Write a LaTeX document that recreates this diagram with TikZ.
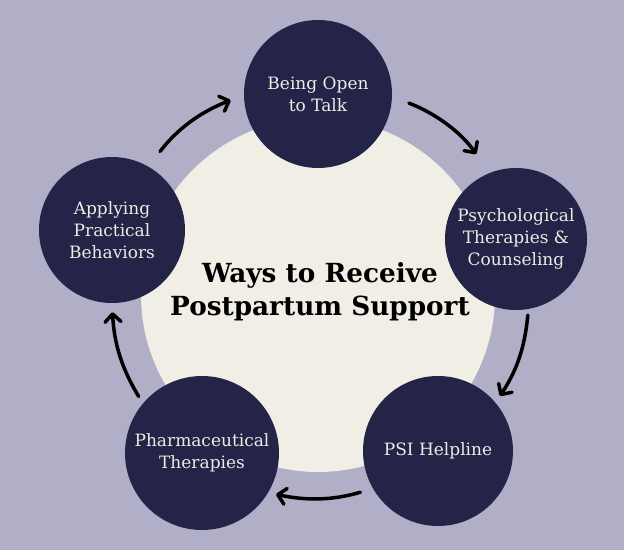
\documentclass[tikz,border=0pt]{standalone}
\usepackage{fontspec}
\setmainfont{DejaVu Serif}
\usetikzlibrary{arrows.meta}
\definecolor{lavender}{HTML}{B1AFC7}
\definecolor{cream}{HTML}{F1EFE5}
\definecolor{navy}{HTML}{232447}
\definecolor{pale}{HTML}{EFEBE3}
\tikzset{
  stepcircle/.style={
    circle,
    fill=navy,
    text=pale,
    align=center,
    inner sep=0pt,
    font=\fontsize{17}{22}\selectfont},
  hubcircle/.style={
    circle,
    fill=cream,
    minimum size=354pt,
    inner sep=0pt},
  titletext/.style={
    align=center,
    text=black,
    font=\fontsize{26.3}{33}\selectfont\bfseries},
  flow/.style={draw, line width=3.5pt, line cap=round,
    -{Straight Barb[length=8pt,width=16pt,round]}},
}

\begin{document}
\begin{tikzpicture}[x=1pt,y=1pt]
  \fill[lavender] (0,0) rectangle (624,550);
  \node[hubcircle] (hub) at (318,255) {};
  \node[titletext] (title) at (320,258) {Ways to Receive\\Postpartum Support};
  % the five ways
  \node[stepcircle, minimum size=148pt] (open) at (318,456) {Being Open\\to Talk};
  \node[stepcircle, minimum size=142pt] (psych) at (516,311) {Psychological\\Therapies \&\\Counseling};
  \node[stepcircle, minimum size=150pt] (psi) at (438,99) {PSI Helpline};
  \node[stepcircle, minimum size=154pt] (pharma) at (202,97) {Pharmaceutical\\Therapies};
  \node[stepcircle, minimum size=146pt] (apply) at (112,320) {Applying\\Practical\\Behaviors};
  % arrows round the ring
  \draw[flow, shorten <=19pt, shorten >=14pt] (apply.60) to[bend left=16] (open.181);
  \draw[flow, shorten <=18pt, shorten >=23pt] (open.-2) to[bend left=17] (psych.112);
  \draw[flow, shorten <=6pt, shorten >=8pt] (psych.-80) to[bend left=14] (psi.40);
  \draw[flow, shorten <=13pt, shorten >=8pt] (psi.210) to[bend left=14] (pharma.-31);
  \draw[flow, shorten <=8pt, shorten >=9pt] (pharma.140) to[bend left=14] (apply.-90);
\end{tikzpicture}
\end{document}
